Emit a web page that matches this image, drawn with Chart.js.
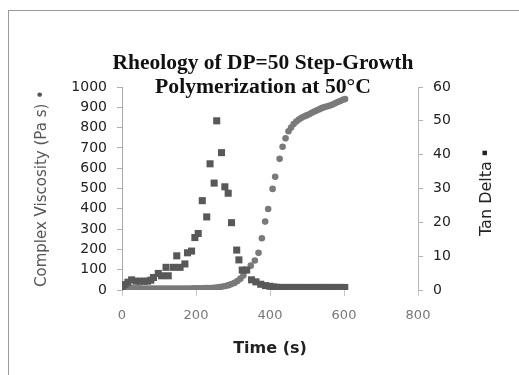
<!DOCTYPE html>
<html>
<head>
<meta charset="utf-8">
<script src="https://cdn.jsdelivr.net/npm/chart.js@4/dist/chart.umd.min.js"></script>
<style>
  html, body { margin: 0; padding: 0; background: #fff; }
  #wrap { position: relative; width: 519px; height: 375px; overflow: hidden; }
  #frame { position: absolute; left: 8px; top: 10px; width: 600px; height: 400px; border-left: 1px solid #9a9a9a; border-top: 1px solid #9a9a9a; }
  canvas { position: absolute; left: 0; top: 0; }
</style>
</head>
<body>
<div id="wrap">
  <div id="frame"></div>
  <canvas id="c" width="519" height="375"></canvas>
</div>
<script>
// Title text
const titleLines = ["Rheology of DP=50 Step-Growth", "Polymerization at 50\u00B0C"];
const xTitle = "Time (s)";
const yLeftTitle = "Complex Viscosity (Pa s) \u2022";
const yRightTitle = "Tan Delta";
const yRightMark = "\u25AA";

// Complex viscosity (Pa s), circles, left axis
const viscTime = [0,8,16,24,32,40,48,56,64,72,80,88,96,104,112,120,128,136,144,152,160,168,176,184,192,200,208,216,224,232,240,248,
  256,264,272,280,288,296,304,312,320,328,337,348,359,369,378,387,395,407,414,426,434,442,450,457,464,471,478,485,492,499,506,513,520,527,534,541,548,555,562,569,576,583,590,597,603];
const viscValue = [18,12,10,9,8,8,8,7,7,7,7,7,7,7,7,7,7,7,7,7,7,7,7,7,8,8,8,8,9,9,10,11,
  12,14,17,20,24,29,35,44,56,72,98,120,145,183,255,337,399,498,558,646,706,747,782,800,818,830,840,848,855,860,866,873,879,885,891,897,901,905,909,914,920,926,931,937,941];

// Tan delta, squares, right axis
const tanTime = [0,8,16,26,38,49,60,69,78,85,98,107,119,125,139,148,157,170,177,188,197,206,217,229,238,249,256,269,278,287,296,310,316,325,337,350,362,375,388,400,410,418,
  426,434,442,450,458,466,474,482,490,498,506,514,522,530,538,546,554,562,570,578,586,594,602];
const tanValue = [1.0,1.6,2.3,3.0,2.6,2.6,2.6,2.6,2.9,3.7,4.9,4.2,6.7,4.2,6.7,10.1,6.7,7.7,11.0,11.5,15.5,16.7,26.4,21.6,37.3,31.6,50.0,40.6,30.5,28.6,19.9,11.8,8.9,5.9,5.9,3.0,2.4,1.7,1.3,1.1,0.9,0.8,
  0.75,0.75,0.75,0.75,0.75,0.75,0.75,0.75,0.75,0.75,0.75,0.75,0.75,0.75,0.75,0.75,0.75,0.75,0.75,0.75,0.75,0.75,0.75];

const viscPoints = viscTime.map((t, i) => ({ x: t, y: viscValue[i] }));
const tanPoints = tanTime.map((t, i) => ({ x: t, y: tanValue[i] }));

const SANS = "'DejaVu Sans', 'Liberation Sans', Arial, sans-serif";
const plain = v => String(v);

const extraText = {
  id: 'extraText',
  afterDraw(chart) {
    const ctx = chart.ctx;
    ctx.save();
    ctx.fillStyle = '#111';
    ctx.textAlign = 'center';
    ctx.textBaseline = 'middle';
    // chart title, two lines, bold serif
    const targets = [301, 216];
    const ys = [63, 87];
    titleLines.forEach((line, i) => {
      ctx.font = "bold 18px 'Liberation Serif', 'Times New Roman', serif";
      const w = ctx.measureText(line).width;
      const size = 18 * targets[i] / w;
      ctx.font = "bold " + size.toFixed(2) + "px 'Liberation Serif', 'Times New Roman', serif";
      ctx.fillText(line, 263, ys[i]);
    });
    // right axis title, reading bottom to top
    ctx.translate(487, 193);
    ctx.rotate(-Math.PI / 2);
    ctx.font = "16px " + SANS;
    ctx.fillStyle = '#222';
    ctx.textAlign = 'left';
    const tw = ctx.measureText(yRightTitle + " ").width;
    ctx.font = "9px " + SANS;
    const mw = ctx.measureText(yRightMark).width;
    const start = -(tw + mw) / 2;
    ctx.font = "16px " + SANS;
    ctx.fillText(yRightTitle, start, 0);
    ctx.font = "9px " + SANS;
    ctx.fillText(yRightMark, start + tw, -2);
    ctx.restore();
  }
};

new Chart(document.getElementById('c'), {
  type: 'scatter',
  data: {
    datasets: [
      {
        label: 'Complex Viscosity',
        data: viscPoints,
        yAxisID: 'y',
        pointStyle: 'circle',
        pointRadius: 3.3,
        pointHoverRadius: 3.3,
        backgroundColor: '#7a7a7a',
        borderColor: '#7a7a7a',
        borderWidth: 0,
        order: 2
      },
      {
        label: 'Tan Delta',
        data: tanPoints,
        yAxisID: 'y1',
        pointStyle: 'rect',
        pointRadius: 5,
        pointHoverRadius: 5,
        backgroundColor: '#585858',
        borderColor: '#585858',
        borderWidth: 0,
        order: 1
      }
    ]
  },
  options: {
    responsive: false,
    animation: false,
    layout: { padding: { left: 30, right: 19, top: 87, bottom: 10 } },
    plugins: {
      legend: { display: false },
      tooltip: { enabled: false },
      title: { display: false }
    },
    scales: {
      x: {
        type: 'linear',
        min: 0, max: 800,
        ticks: { stepSize: 200, color: '#777', font: { family: SANS, size: 13 }, padding: 12, maxRotation: 0, callback: plain },
        grid: { drawOnChartArea: false, drawTicks: true, tickLength: 6, color: '#c8c8c8' },
        border: { display: false },
        title: { display: true, text: xTitle, color: '#222', font: { family: SANS, size: 16, weight: 'bold' }, padding: { top: 0, bottom: 7 } },
        afterFit(s) { s.height = 75; }
      },
      y: {
        type: 'linear',
        position: 'left',
        min: 0, max: 1000,
        ticks: { stepSize: 100, color: '#222', font: { family: SANS, size: 14 }, padding: 10, callback: plain },
        grid: { drawOnChartArea: false, drawTicks: true, tickLength: 5, color: '#b0b0b0' },
        border: { display: true, color: '#a8a8a8' },
        title: { display: true, text: yLeftTitle, color: '#555', font: { family: SANS, size: 15 }, padding: { top: 3, bottom: 0 } },
        afterFit(s) { s.width = 92; }
      },
      y1: {
        type: 'linear',
        position: 'right',
        min: 0, max: 60,
        ticks: { stepSize: 10, color: '#222', font: { family: SANS, size: 14 }, padding: 10, callback: plain },
        grid: { drawOnChartArea: false, drawTicks: true, tickLength: 5, color: '#b0b0b0' },
        border: { display: true, color: '#b8b8b8' },
        afterFit(s) { s.width = 82; }
      }
    }
  },
  plugins: [extraText]
});
</script>
</body>
</html>
